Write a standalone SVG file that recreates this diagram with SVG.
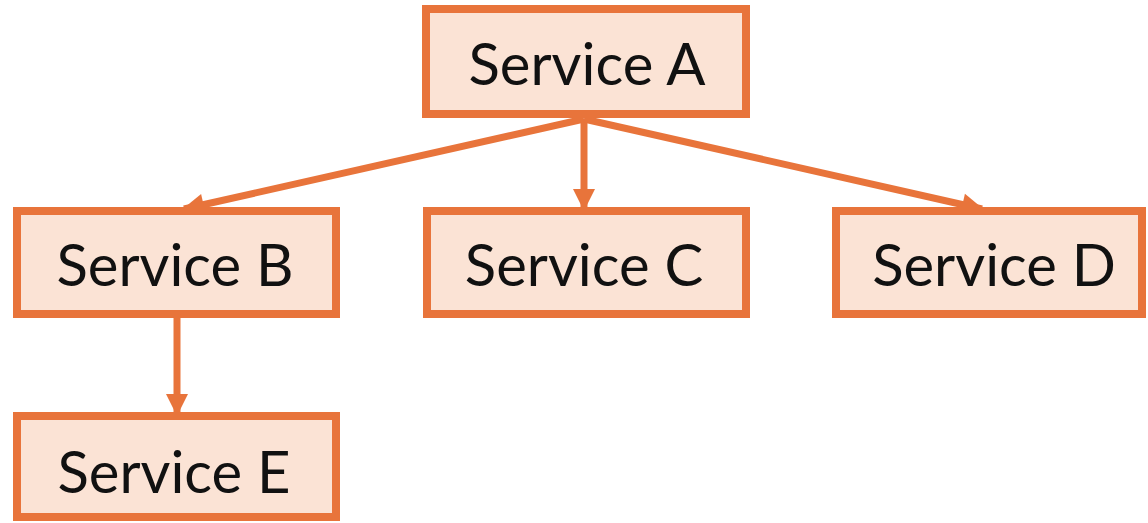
<svg xmlns="http://www.w3.org/2000/svg" width="1148" height="523" viewBox="0 0 1148 523">
  <style>
    .box { fill: #FBE3D5; stroke: #E8743B; stroke-width: 8; }
    .label { font-family: Lato, "Open Sans", sans-serif; font-size: 58px; fill: #111111; text-anchor: middle; }
    .edge { stroke: #E8743B; stroke-width: 7; fill: none; marker-end: url(#arrow); }
  </style>
  <defs>
    <marker id="arrow" markerUnits="userSpaceOnUse" markerWidth="26" markerHeight="26" viewBox="0 0 26 26" refX="22" refY="13" orient="auto">
      <path d="M2,2 L24,13 L2,24 Z" fill="#E8743B"/>
    </marker>
  </defs>
  <rect width="1148" height="523" fill="#ffffff"/>

  <!-- connectors: A fans out to B, C, D; B feeds E -->
  <g id="connectors">
    <line class="edge" x1="584" y1="119" x2="184" y2="209"/>
    <line class="edge" x1="584" y1="119" x2="584" y2="209"/>
    <line class="edge" x1="584" y1="119" x2="982" y2="209"/>
    <line class="edge" x1="177" y1="318" x2="177" y2="414"/>
  </g>

  <g id="service-a">
    <rect class="box" x="426" y="9" width="320" height="105"/>
    <text class="label" x="587" y="85">Service A</text>
  </g>
  <g id="service-b">
    <rect class="box" x="17" y="211" width="319" height="103"/>
    <text class="label" x="175" y="286">Service B</text>
  </g>
  <g id="service-c">
    <rect class="box" x="427" y="211" width="319" height="103"/>
    <text class="label" x="584" y="286">Service C</text>
  </g>
  <g id="service-d">
    <rect class="box" x="836" y="211" width="306" height="103"/>
    <text class="label" x="994" y="286">Service D</text>
  </g>
  <g id="service-e">
    <rect class="box" x="17" y="416" width="319" height="101"/>
    <text class="label" x="174" y="493">Service E</text>
  </g>
</svg>
